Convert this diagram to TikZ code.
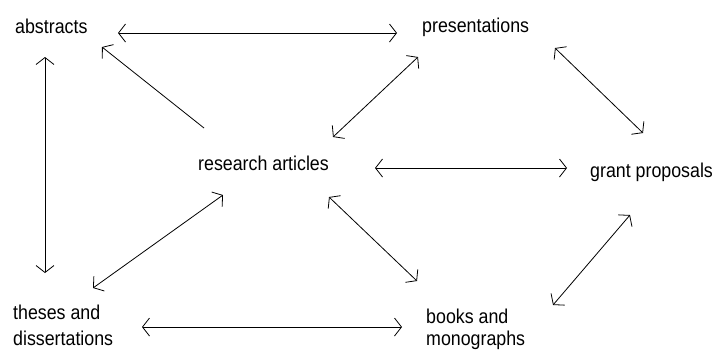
\documentclass[tikz,border=0pt]{standalone}
\usepackage{fontspec}
\setmainfont{Liberation Sans}[FakeStretch=0.89]
\usetikzlibrary{arrows.meta}

\tikzset{
  barb/.tip={Straight Barb[length=7pt,width=18pt]},
  label text/.style={inner sep=0pt, anchor=base west, align=left,
    font=\fontsize{20}{26}\selectfont},
  link/.style={line width=0.8pt, barb-barb},
  oneway/.style={line width=0.8pt, -barb}
}

\begin{document}
\begin{tikzpicture}[x=1pt,y=-1pt]
  \useasboundingbox (0,0) rectangle (714,349);
  % the six kinds of writing (two-line ones sit on their last line)
  \node[label text] (abs)    at (15,33)  {abstracts};
  \node[label text] (pres)   at (422,32) {presentations};
  \node[label text] (res)    at (198,170) {research articles};
  \node[label text] (grant)  at (590,177) {grant proposals};
  \node[label text] (theses) at (13,345) {theses and\\dissertations};
  \node[label text] (books)  at (426,345) {books and\\[-4pt]monographs};

  % links round the outside
  \draw[link] ([shift={(103,0)}]abs.base west) -- ([shift={(-25,1)}]pres.base west);
  \draw[link] ([shift={(30,24)}]abs.base west) -- ([shift={(32,-72)}]theses.base west);
  \draw[link] ([shift={(133,16)}]pres.base west) -- ([shift={(53,-44)}]grant.base west);
  \draw[link] ([shift={(40,38)}]grant.base west) -- ([shift={(127,-40)}]books.base west);
  \draw[link] ([shift={(129,-18)}]theses.base west) -- ([shift={(-24,-18)}]books.base west);

  % links from research articles
  \draw[oneway] ([shift={(6,-42)}]res.base west) -- ([shift={(87,14)}]abs.base west);
  \draw[link] ([shift={(135,-33)}]res.base west) -- ([shift={(-4,25)}]pres.base west);
  \draw[link] ([shift={(177,-2)}]res.base west) -- ([shift={(-23,-9)}]grant.base west);
  \draw[link] ([shift={(25,25)}]res.base west) -- ([shift={(80,-57)}]theses.base west);
  \draw[link] ([shift={(131,27)}]res.base west) -- ([shift={(-9,-64)}]books.base west);
\end{tikzpicture}
\end{document}
